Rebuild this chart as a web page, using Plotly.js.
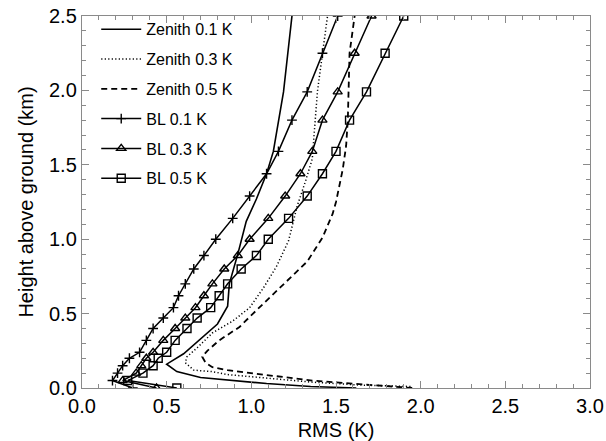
<!DOCTYPE html>
<html>
<head>
<meta charset="utf-8">
<script src="https://cdn.plot.ly/plotly-3.0.1.min.js"></script>
<style>html,body{margin:0;padding:0;background:#fff;}#chart{width:606px;height:441px;}</style>
</head>
<body>
<div id="chart"></div>
<script>
// Zenith retrievals (RMS in K, height in km)
const zen01Rms = [1.62, 1.35, 1.09, 0.89, 0.70, 0.56, 0.50, 0.60, 0.70, 0.80, 0.86, 0.87, 0.92, 0.97, 1.03, 1.09, 1.13, 1.19, 1.24];
const zen01Hgt = [0.00, 0.01, 0.03, 0.05, 0.07, 0.11, 0.16, 0.23, 0.33, 0.43, 0.55, 0.70, 0.90, 1.12, 1.27, 1.44, 1.59, 1.99, 2.50];

const zen03Rms = [1.94, 1.64, 1.35, 1.07, 0.86, 0.77, 0.66, 0.61, 0.62, 0.68, 0.77, 0.89, 0.99, 1.07, 1.15, 1.22, 1.27, 1.32, 1.36, 1.39, 1.45];
const zen03Hgt = [0.01, 0.02, 0.04, 0.07, 0.09, 0.11, 0.12, 0.17, 0.21, 0.27, 0.37, 0.45, 0.54, 0.67, 0.82, 0.99, 1.22, 1.39, 1.54, 1.99, 2.50];

const zen05Rms = [1.95, 1.62, 1.36, 1.07, 0.86, 0.77, 0.73, 0.71, 0.74, 0.81, 0.93, 1.01, 1.11, 1.23, 1.33, 1.42, 1.48, 1.50, 1.54, 1.56, 1.57, 1.58, 1.61];
const zen05Hgt = [0.00, 0.03, 0.05, 0.09, 0.12, 0.14, 0.17, 0.21, 0.25, 0.32, 0.41, 0.50, 0.61, 0.74, 0.85, 1.01, 1.17, 1.25, 1.47, 1.63, 1.81, 2.25, 2.50];

// Boundary-layer retrievals
const blHgt   = [0.00, 0.05, 0.10, 0.15, 0.20, 0.24, 0.32, 0.40, 0.47, 0.54, 0.62, 0.70, 0.80, 0.89, 1.00, 1.14, 1.29, 1.44, 1.59, 1.80, 1.99, 2.25, 2.50];
const bl01Rms = [0.30, 0.18, 0.21, 0.24, 0.28, 0.34, 0.38, 0.42, 0.48, 0.54, 0.57, 0.61, 0.66, 0.72, 0.79, 0.89, 0.99, 1.09, 1.16, 1.24, 1.33, 1.42, 1.51];
const bl03Rms = [0.44, 0.24, 0.32, 0.35, 0.38, 0.42, 0.48, 0.55, 0.61, 0.67, 0.72, 0.77, 0.84, 0.92, 0.99, 1.10, 1.20, 1.29, 1.36, 1.42, 1.51, 1.61, 1.71];
const bl05Rms = [0.56, 0.27, 0.36, 0.42, 0.45, 0.50, 0.55, 0.62, 0.68, 0.76, 0.81, 0.86, 0.94, 1.03, 1.10, 1.22, 1.33, 1.42, 1.50, 1.58, 1.68, 1.79, 1.90];

const seriesNames = ['Zenith 0.1 K', 'Zenith 0.3 K', 'Zenith 0.5 K', 'BL 0.1 K', 'BL 0.3 K', 'BL 0.5 K'];

const FONT = '"Liberation Sans", Arial, Helvetica, sans-serif';
const AXC = '#8a8a8a';

function lineTrace(x, y, name, dash, w, grp) {
  return {x: x, y: y, name: name, type: 'scatter', mode: 'lines', legendgroup: grp,
          line: {color: '#000', width: w, dash: dash}};
}
function markTrace(x, y, name, sym, size, grp) {
  return {x: x, y: y, name: name, type: 'scatter', mode: 'lines+markers', legendgroup: grp,
          line: {color: '#000', width: 1.5},
          marker: {symbol: sym, size: size, color: '#000', line: {color: '#000', width: 1.4}}};
}

const data = [
  lineTrace(zen01Rms, zen01Hgt, seriesNames[0], 'solid', 1.6, 'a'),
  lineTrace(zen03Rms, zen03Hgt, seriesNames[1], '1.2px,2.3px', 1.5, 'b'),
  lineTrace(zen05Rms, zen05Hgt, seriesNames[2], '6px,4px', 1.8, 'c'),
  markTrace(bl01Rms, blHgt, seriesNames[3], 'cross-thin-open', 7, 'd'),
  markTrace(bl03Rms, blHgt, seriesNames[4], 'triangle-up-open', 8, 'e'),
  markTrace(bl05Rms, blHgt, seriesNames[5], 'square-open', 8, 'f')
];

const axisCommon = {
  showline: true, linecolor: AXC, linewidth: 1.2, mirror: 'ticks',
  ticks: 'inside', ticklen: 7, tickwidth: 1, tickcolor: AXC,
  showgrid: false, zeroline: false, tickformat: '.1f',
  tickfont: {family: FONT, size: 20, color: '#000'},
  minor: {dtick: 0.1, ticks: 'inside', ticklen: 4, tickwidth: 1, tickcolor: AXC}
};

const layout = {
  width: 606, height: 441,
  margin: {l: 82, r: 16, t: 14, b: 53},
  paper_bgcolor: '#fff', plot_bgcolor: '#fff',
  font: {family: FONT, color: '#000'},
  xaxis: Object.assign({}, axisCommon, {
    range: [0, 3], dtick: 0.5, tick0: 0,
    title: {text: 'RMS (K)', font: {family: FONT, size: 20, color: '#000'}, standoff: 6}
  }),
  yaxis: Object.assign({}, axisCommon, {
    range: [0, 2.5], dtick: 0.5, tick0: 0,
    title: {text: 'Height above ground (km)', font: {family: FONT, size: 20, color: '#000'}, standoff: 10}
  }),
  showlegend: true,
  legend: {
    x: 0.028, y: 1.01, xanchor: 'left', yanchor: 'top',
    bgcolor: 'rgba(0,0,0,0)', borderwidth: 0,
    font: {family: FONT, size: 16, color: '#000'},
    traceorder: 'grouped', tracegroupgap: 6, itemwidth: 40
  }
};

Plotly.newPlot('chart', data, layout, {displayModeBar: false, staticPlot: true});
</script>
</body>
</html>
